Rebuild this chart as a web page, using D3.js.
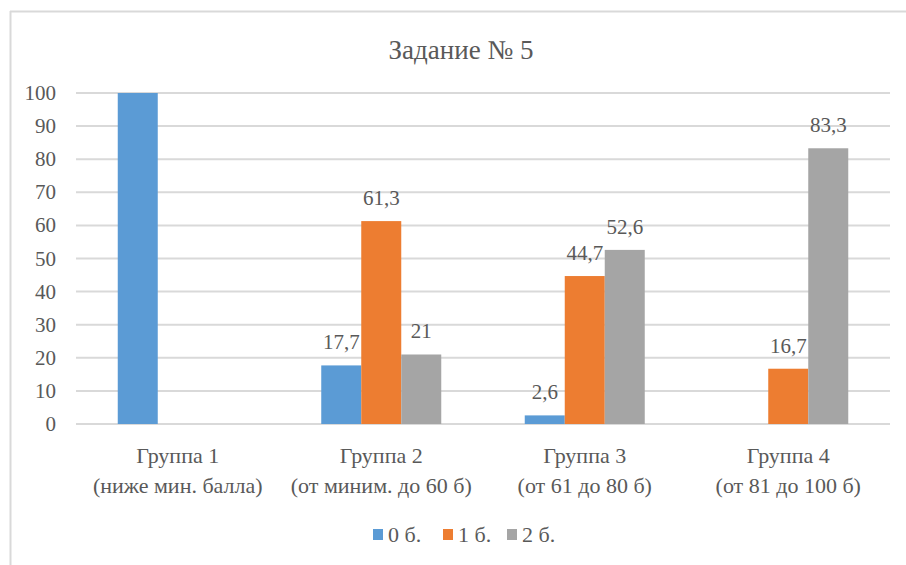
<!DOCTYPE html>
<html><head><meta charset="utf-8">
<script src="https://cdn.jsdelivr.net/npm/d3@7"></script>
<style>body{margin:0;background:#fff;}</style>
</head><body>
<svg id="c" width="906" height="565"></svg>
<script>
const title = "Задание № 5";
const categories = ["Группа 1", "Группа 2", "Группа 3", "Группа 4"];
const subLabels = ["(ниже мин. балла)", "(от миним. до 60 б)", "(от 61 до 80 б)", "(от 81 до 100 б)"];
const seriesNames = ["0 б.", "1 б.", "2 б."];
const s0 = [100, 17.7, 2.6, null];
const s1 = [null, 61.3, 44.7, 16.7];
const s2 = [null, 21, 52.6, 83.3];
const labels0 = [null, "17,7", "2,6", null];
const labels1 = [null, "61,3", "44,7", "16,7"];
const labels2 = [null, "21", "52,6", "83,3"];
const yTicks = [0, 10, 20, 30, 40, 50, 60, 70, 80, 90, 100];
const colors = ["#5B9BD5", "#ED7D31", "#A5A5A5"];

const series = [s0, s1, s2];
const seriesLabels = [labels0, labels1, labels2];
const svg = d3.select("#c");
const W = 906, H = 565;
const m = {l: 76, r: 16, t: 93, b: 141};

svg.append("line").attr("x1", 10).attr("x2", W).attr("y1", 11.5).attr("y2", 11.5).attr("stroke", "#D9D9D9").attr("stroke-width", 2);
svg.append("line").attr("x1", 10.5).attr("x2", 10.5).attr("y1", 11).attr("y2", H).attr("stroke", "#D9D9D9").attr("stroke-width", 2);

function txt(g, x, y, s, size, anchor) {
  return g.append("text").attr("x", x).attr("y", y)
    .attr("text-anchor", anchor || "middle").attr("font-family", "Liberation Serif")
    .attr("font-size", size).attr("fill", "#595959").text(s);
}

const x0 = d3.scaleBand().domain(categories).range([m.l, W - m.r]);
const x1 = d3.scaleBand().domain(d3.range(3)).range([0, 120]);
const y = d3.scaleLinear().domain([0, 100]).range([H - m.b, m.t]);

txt(svg, 461, 59, title, 27);

const grid = svg.append("g");
yTicks.forEach(t => {
  grid.append("line").attr("x1", m.l).attr("x2", W - m.r).attr("y1", y(t)).attr("y2", y(t))
    .attr("stroke", "#D9D9D9").attr("stroke-width", 2);
  txt(grid, 56, y(t) + 7, String(t), 21, "end");
});

const bars = svg.append("g");
categories.forEach((c, i) => {
  const cx = x0(c) + x0.bandwidth() / 2 - 60;
  series.forEach((s, k) => {
    if (s[i] == null) return;
    const bx = cx + x1(k);
    bars.append("rect").attr("x", bx).attr("y", y(s[i])).attr("width", x1.bandwidth())
      .attr("height", y(0) - y(s[i])).attr("fill", colors[k]);
    if (seriesLabels[k][i]) txt(bars, bx + x1.bandwidth() / 2, y(s[i]) - 16, seriesLabels[k][i], 21);
  });
  txt(svg, x0(c) + x0.bandwidth() / 2, 463, c, 22);
  txt(svg, x0(c) + x0.bandwidth() / 2, 493, subLabels[i], 22);
});

const leg = svg.append("g");
const legX = [373, 443, 507];
seriesNames.forEach((n, k) => {
  leg.append("rect").attr("x", legX[k]).attr("y", 529).attr("width", 10).attr("height", 11).attr("fill", colors[k]);
  txt(leg, legX[k] + 15, 542, n, 22, "start");
});
</script>
</body></html>
